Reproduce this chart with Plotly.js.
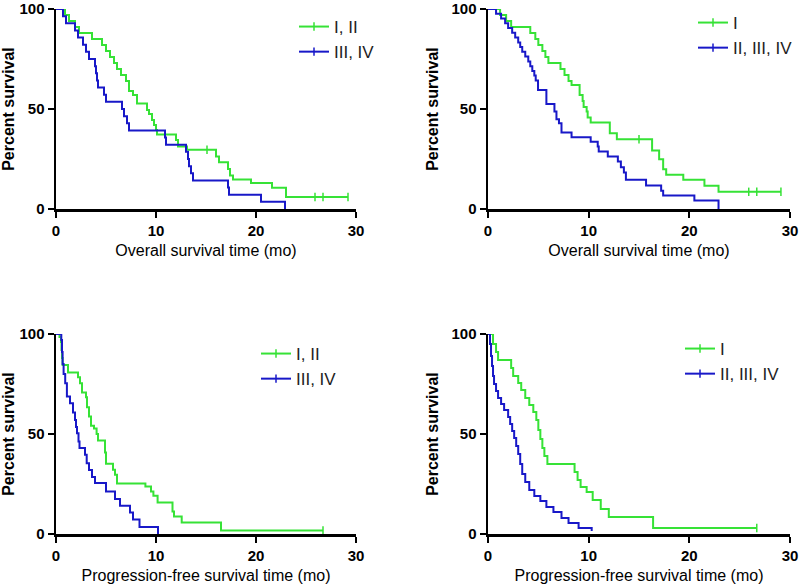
<!DOCTYPE html>
<html>
<head>
<meta charset="utf-8">
<script src="https://cdn.plot.ly/plotly-3.0.1.min.js"></script>
<style>html,body{margin:0;padding:0;background:#fff;}#chart{width:800px;height:585px;}</style>
</head>
<body>
<div id="chart"></div>
<script>
// ---------- Data ----------
// Panel A: overall survival, stage I,II vs III,IV
const osA_I_II_t   = [0, 0.9, 1.3, 1.9, 2.3, 3.6, 4.6, 5.0, 5.4, 5.8, 6.1, 6.5, 7.0, 7.3, 7.7, 8.1, 9.1, 9.3, 9.6, 9.8, 10.0, 10.1, 12.0, 12.2, 13.1, 16.0, 16.3, 17.2, 17.4, 17.7, 19.5, 21.6, 23.0, 29.2];
const osA_I_II_s   = [100, 97, 94, 91, 88, 85, 82, 79, 76, 73, 70, 67, 64, 59, 57, 52.8, 49.5, 47.5, 44.5, 42, 39.5, 37.2, 34.5, 31.2, 29.6, 26.2, 23.4, 20, 16.8, 14.8, 13, 10.6, 6, 6];
const osA_I_II_censT = [15.1, 25.9, 26.7, 29.2];
const osA_I_II_censS = [29.6, 6, 6, 6];
const osA_III_IV_t = [0, 0.7, 1.0, 1.9, 2.2, 2.7, 3.0, 3.3, 3.9, 4.0, 4.1, 4.2, 4.8, 5.0, 6.6, 6.8, 7.1, 7.3, 10.9, 11.0, 13.0, 13.2, 13.3, 13.5, 13.7, 17.2, 17.3, 20.5, 22.9];
const osA_III_IV_s = [100, 96.4, 92.9, 89.3, 85.7, 82.1, 78.6, 75, 71.4, 67.9, 64.3, 60.7, 57.1, 53.6, 50, 46.4, 42.9, 39.3, 35.7, 32.1, 28.6, 25, 21.4, 17.9, 14.3, 10.7, 7.1, 3.6, 0];
const osA_III_IV_censT = [];
const osA_III_IV_censS = [];

// Panel B: overall survival, stage I vs II,III,IV
const osB_I_t   = [0, 1.2, 1.8, 2.3, 4.2, 4.7, 5.0, 5.4, 5.7, 6.0, 7.2, 7.6, 8.0, 8.3, 9.1, 9.4, 9.5, 9.8, 9.9, 10.2, 12.1, 12.8, 16.3, 17.0, 17.4, 17.7, 19.4, 21.5, 22.9, 29.1];
const osB_I_s   = [100, 97, 94, 91, 88, 85, 82, 79, 76, 73, 70, 67, 64, 62, 57, 54, 51, 48.7, 45.8, 43.2, 37.9, 34.9, 29.2, 24.9, 19.9, 17.1, 14.6, 11.6, 8.6, 8.6];
const osB_I_censT = [15.0, 25.9, 26.7, 29.1];
const osB_I_censS = [34.9, 8.6, 8.6, 8.6];
const osB_II_IV_t = [0, 0.8, 1.3, 1.7, 2.0, 2.4, 2.7, 3.0, 3.2, 3.4, 3.7, 4.0, 4.2, 4.4, 4.6, 4.74, 4.97, 5.8, 6.6, 6.8, 7.05, 7.3, 8.3, 10.2, 10.9, 11.0, 11.9, 12.9, 13.2, 13.5, 13.7, 15.7, 17.2, 17.4, 20.5, 22.9];
const osB_II_IV_s = [100, 97.6, 95.2, 92.9, 90.5, 88.1, 85.7, 83.3, 81, 78.6, 76.2, 73.8, 71.4, 69, 66.7, 64.3, 59.5, 52.5, 48.7, 44.9, 42.9, 38.2, 35.9, 33.6, 31.2, 28.7, 26.2, 23.8, 20.9, 18.3, 14.6, 11.8, 9.1, 6.8, 4.3, 0];
const osB_II_IV_censT = [];
const osB_II_IV_censS = [];

// Panel C: progression-free survival, stage I,II vs III,IV
const pfsC_I_II_t = [0, 0.35, 0.5, 0.55, 0.6, 0.66, 1.2, 2.2, 2.4, 2.6, 3.0, 3.1, 3.3, 3.5, 3.8, 4.06, 4.2, 4.9, 5.0, 5.7, 5.9, 6.1, 8.94, 9.5, 9.74, 10.16, 11.65, 11.8, 12.57, 16.5, 26.7];
const pfsC_I_II_s = [100, 98.5, 96, 92, 88, 84.5, 80.7, 78.4, 75.4, 70.7, 68.4, 63.4, 58.7, 54.1, 52.7, 50, 46.7, 40.8, 35.1, 32.1, 29.6, 25.3, 23.8, 21.3, 19.1, 15.8, 11.3, 8.8, 5.8, 1.8, 1.8];
const pfsC_I_II_censT = [26.7];
const pfsC_I_II_censS = [1.8];
const pfsC_III_IV_t = [0, 0.53, 0.6, 0.66, 0.76, 0.92, 1.09, 1.4, 1.7, 1.9, 2.0, 2.1, 2.25, 2.35, 2.9, 3.07, 3.3, 3.6, 3.9, 5.0, 5.9, 6.4, 7.4, 7.7, 8.35, 10.2];
const pfsC_III_IV_s = [100, 97, 91, 85, 80, 75.4, 68.7, 65.4, 60.7, 57, 53.5, 50.4, 46.3, 43, 39.6, 35.4, 32, 28.5, 25.5, 21.3, 17.5, 14.1, 10.8, 7.2, 3.5, 0];
const pfsC_III_IV_censT = [];
const pfsC_III_IV_censS = [];

// Panel D: progression-free survival, stage I vs II,III,IV
const pfsD_I_t = [0, 0.5, 0.8, 1.0, 2.3, 2.5, 3.0, 3.3, 3.7, 4.1, 4.5, 4.8, 5.0, 5.2, 5.4, 5.6, 5.9, 8.6, 8.9, 9.2, 9.8, 10.4, 11.2, 12.0, 16.4, 26.7];
const pfsD_I_s = [100, 95, 91, 87, 83, 79, 75.5, 72, 68, 64.5, 61, 57, 52, 47.5, 43, 39, 35, 31, 27, 23.5, 21, 17, 12.5, 8.5, 3, 3];
const pfsD_I_censT = [26.7];
const pfsD_I_censS = [3];
const pfsD_II_IV_t = [0, 0.2, 0.3, 0.4, 0.5, 0.6, 0.8, 1.0, 1.3, 1.6, 2.0, 2.2, 2.4, 2.6, 2.8, 3.0, 3.2, 3.4, 3.7, 4.1, 4.6, 5.2, 5.8, 6.5, 7.3, 8.0, 9.0, 10.3];
const pfsD_II_IV_s = [100, 95, 89, 84, 79, 75, 71.5, 68, 65, 62, 58.5, 55, 51.5, 48, 44, 40, 35, 30, 26, 22, 19, 16.5, 13.5, 11, 8, 5.5, 3, 1.5];
const pfsD_II_IV_censT = [];
const pfsD_II_IV_censS = [];

const xTicks = [0, 10, 20, 30];
const yTicks = [0, 50, 100];
const yTitle = 'Percent survival';
const xTitleOS = 'Overall survival time (mo)';
const xTitlePFS = 'Progression-free survival time (mo)';
const namesAC = ['I, II', 'III, IV'];
const namesBD = ['I', 'II, III, IV'];

// ---------- Styling ----------
const GREEN = '#36e236';
const BLUE = '#1818c8';
const FONT = '"Liberation Sans", Arial, sans-serif';

function withGaps(arr) {
  const out = [];
  arr.forEach((v, i) => { if (i) out.push(null); out.push(v); });
  return out.length ? out : [null];
}

function series(xa, ya, legendId, name, color, t, s, censT, censS) {
  return [
    { type: 'scatter', mode: 'lines', x: t, y: s, xaxis: xa, yaxis: ya,
      line: { color: color, width: 2, shape: 'hv' }, showlegend: false,
      legend: legendId, legendgroup: legendId + name, hoverinfo: 'skip' },
    { type: 'scatter', mode: 'lines+markers', x: withGaps(censT), y: withGaps(censS),
      xaxis: xa, yaxis: ya, connectgaps: false, name: name, legend: legendId,
      legendgroup: legendId + name, showlegend: true,
      line: { color: color, width: 2 },
      marker: { symbol: 'line-ns', size: 6, color: color, line: { color: color, width: 1.5 } },
      cliponaxis: false, hoverinfo: 'skip' }
  ];
}

const data = [].concat(
  series('x', 'y', 'legend', namesAC[0], GREEN, osA_I_II_t, osA_I_II_s, osA_I_II_censT, osA_I_II_censS),
  series('x', 'y', 'legend', namesAC[1], BLUE, osA_III_IV_t, osA_III_IV_s, osA_III_IV_censT, osA_III_IV_censS),
  series('x2', 'y2', 'legend2', namesBD[0], GREEN, osB_I_t, osB_I_s, osB_I_censT, osB_I_censS),
  series('x2', 'y2', 'legend2', namesBD[1], BLUE, osB_II_IV_t, osB_II_IV_s, osB_II_IV_censT, osB_II_IV_censS),
  series('x3', 'y3', 'legend3', namesAC[0], GREEN, pfsC_I_II_t, pfsC_I_II_s, pfsC_I_II_censT, pfsC_I_II_censS),
  series('x3', 'y3', 'legend3', namesAC[1], BLUE, pfsC_III_IV_t, pfsC_III_IV_s, pfsC_III_IV_censT, pfsC_III_IV_censS),
  series('x4', 'y4', 'legend4', namesBD[0], GREEN, pfsD_I_t, pfsD_I_s, pfsD_I_censT, pfsD_I_censS),
  series('x4', 'y4', 'legend4', namesBD[1], BLUE, pfsD_II_IV_t, pfsD_II_IV_s, pfsD_II_IV_censT, pfsD_II_IV_censS)
);

const W = 800, H = 585;
function xdom(l, r) { return [l / W, r / W]; }
function ydom(top, bottom) { return [1 - bottom / H, 1 - top / H]; }

function xaxis(dom, anchor, title) {
  return {
    domain: dom, anchor: anchor, range: [0, 30], tickvals: xTicks, ticktext: xTicks.map(String),
    showline: true, linecolor: '#000', linewidth: 2.5, ticks: 'outside', ticklen: 6, tickwidth: 2,
    tickcolor: '#000', showgrid: false, zeroline: false, fixedrange: true,
    tickfont: { family: FONT, size: 15, color: '#000', weight: 'bold' },
    title: { text: title, font: { family: FONT, size: 16, color: '#000' }, standoff: 8 }
  };
}
function yaxis(dom, anchor) {
  return {
    domain: dom, anchor: anchor, range: [0, 100], tickvals: yTicks, ticktext: yTicks.map(String),
    showline: true, linecolor: '#000', linewidth: 2.5, ticks: 'outside', ticklen: 6, tickwidth: 2,
    tickcolor: '#000', showgrid: false, zeroline: false, fixedrange: true,
    ticklabeloverflow: 'allow',
    tickfont: { family: FONT, size: 15, color: '#000', weight: 'bold' },
    title: { text: yTitle, font: { family: FONT, size: 16, color: '#000', weight: 'bold' }, standoff: 9 }
  };
}
function legendAt(textX, firstRowY) {
  return {
    x: (textX - 42) / W, y: 1 - (firstRowY - 13) / H, xanchor: 'left', yanchor: 'top',
    bgcolor: 'rgba(0,0,0,0)', borderwidth: 0, tracegroupgap: 0,
    font: { family: FONT, size: 17, color: '#222' }
  };
}

const layout = {
  width: W, height: H, margin: { l: 0, r: 0, t: 0, b: 0 },
  paper_bgcolor: '#fff', plot_bgcolor: '#fff', font: { family: FONT },
  xaxis: xaxis(xdom(56, 356), 'y', xTitleOS),
  yaxis: yaxis(ydom(9, 209), 'x'),
  xaxis2: xaxis(xdom(488, 790), 'y2', xTitleOS),
  yaxis2: yaxis(ydom(9, 209), 'x2'),
  xaxis3: xaxis(xdom(56, 356), 'y3', xTitlePFS),
  yaxis3: yaxis(ydom(334, 534), 'x3'),
  xaxis4: xaxis(xdom(488, 790), 'y4', xTitlePFS),
  yaxis4: yaxis(ydom(334, 534), 'x4'),
  legend: legendAt(336, 22),
  legend2: legendAt(735, 18),
  legend3: legendAt(298, 349),
  legend4: legendAt(722, 344),
  showlegend: true
};

Plotly.newPlot('chart', data, layout, { displayModeBar: false, staticPlot: true });
</script>
</body>
</html>
